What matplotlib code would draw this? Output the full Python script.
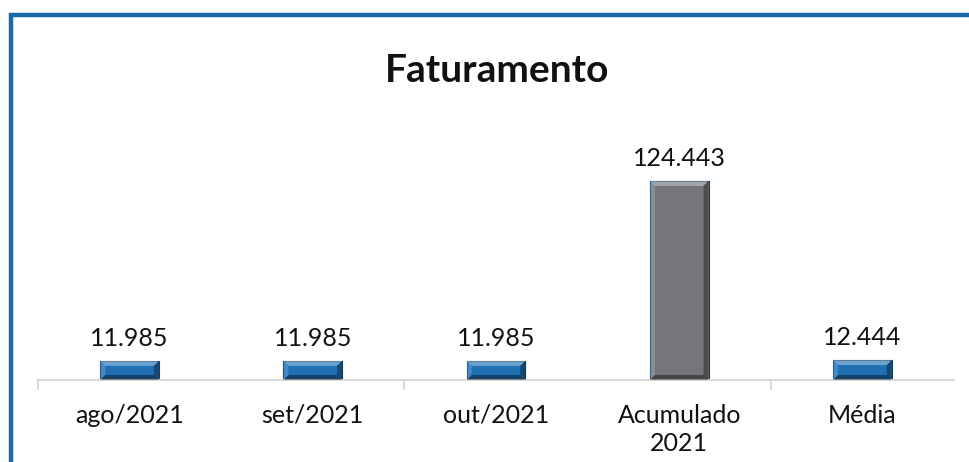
import matplotlib.pyplot as plt
from matplotlib.patches import Rectangle, Polygon

categorias = ["ago/2021", "set/2021", "out/2021", "Acumulado\n2021", "Média"]
valores = [11985, 11985, 11985, 124443, 12444]
rotulos = ["11.985", "11.985", "11.985", "124.443", "12.444"]
cores = ["#1f6fb5", "#1f6fb5", "#1f6fb5", "#747679", "#1f6fb5"]

plt.rcParams['font.family'] = ['Lato', 'DejaVu Sans']

fig = plt.figure(figsize=(9.69, 4.62), dpi=100)
W, H = 969, 462

# blue frame of the chart area (cut on the right and bottom)
fig.patches.append(Rectangle((10.5 / W, -0.1), 1.2, (H - 15.5) / H + 0.1,
                             transform=fig.transFigure, fill=False,
                             edgecolor="#1a6aa6", linewidth=3.2))

ax = fig.add_axes([38 / W, 82 / H, 916 / W, 224 / H])
ymax = 140000
ax.set_xlim(-0.5, 4.5)
ax.set_ylim(0, ymax)

x = list(range(len(categorias)))
barras = ax.bar(x, valores, width=0.32, color=cores, edgecolor="#0f3f66", linewidth=0.8, zorder=2)

# bevel effect on each bar
px_x = 5.0 / (916 / 5.0)
px_y = 5.0 * ymax / 224
for b, c in zip(barras, cores):
    x0, w, h = b.get_x(), b.get_width(), b.get_height()
    x1, y1 = x0 + w, h
    bx, by = px_x, min(px_y, h * 0.3)
    light = "#ffffff"
    dark = "#000000"
    faces = [
        ([(x0, y1), (x1, y1), (x1 - bx, y1 - by), (x0 + bx, y1 - by)], light, 0.35),
        ([(x0, 0), (x0, y1), (x0 + bx, y1 - by), (x0 + bx, by)], light, 0.18),
        ([(x1, 0), (x1, y1), (x1 - bx, y1 - by), (x1 - bx, by)], dark, 0.35),
        ([(x0, 0), (x1, 0), (x1 - bx, by), (x0 + bx, by)], dark, 0.4),
    ]
    for pts, col, a in faces:
        ax.add_patch(Polygon(pts, closed=True, facecolor=col, alpha=a, edgecolor="none", zorder=3))

for xi, v, r in zip(x, valores, rotulos):
    ax.annotate(r, (xi, v), xytext=(0, 8), textcoords="offset points",
                ha="center", va="bottom", fontsize=18, color="#111111")

for s in ["top", "right", "left"]:
    ax.spines[s].set_visible(False)
ax.spines["bottom"].set_color("#d9d9d9")
ax.spines["bottom"].set_linewidth(1.5)
ax.set_yticks([])
ax.set_xticks(x)
ax.set_xticklabels(categorias, fontsize=18, color="#111111", linespacing=1.3)
ax.tick_params(axis="x", length=0, pad=17)
ax.set_xticks([-0.5, 1.5, 3.5], minor=True)
ax.tick_params(axis="x", which="minor", length=7, width=1.5, color="#d9d9d9")

fig.text(497 / W, 1 - 70 / H, "Faturamento", ha="center", va="center",
         fontsize=28, fontweight="bold", color="#111111")

fig.savefig("out.png", dpi=100)
